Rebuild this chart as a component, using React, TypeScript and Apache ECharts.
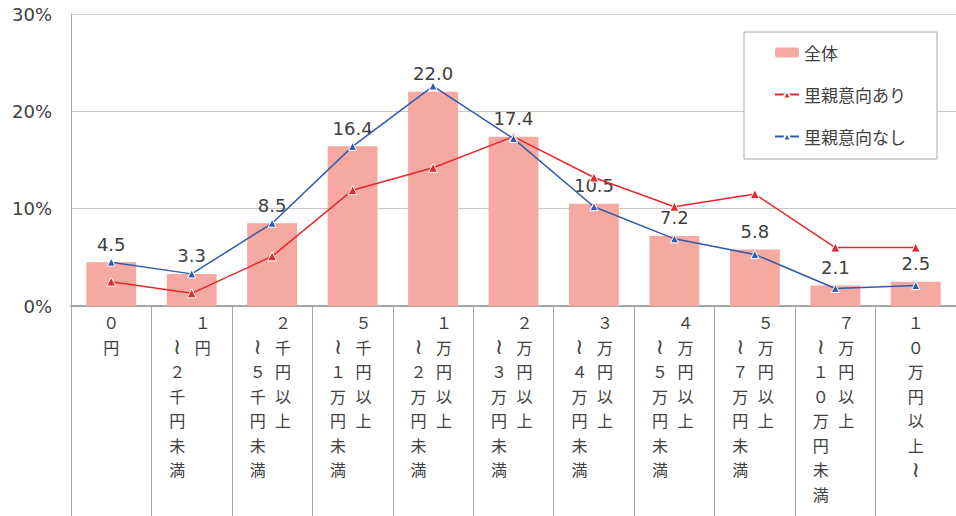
import React, { useEffect, useRef } from "react";
import * as echarts from "echarts";

const categories = [
  "０円",
  "１円～２千円未満",
  "２千円以上～５千円未満",
  "５千円以上～１万円未満",
  "１万円以上～２万円未満",
  "２万円以上～３万円未満",
  "３万円以上～４万円未満",
  "４万円以上～５万円未満",
  "５万円以上～７万円未満",
  "７万円以上～１０万円未満",
  "１０万円以上～",
];
const seriesNames = ["全体", "里親意向あり", "里親意向なし"];
const totalValues = [4.5, 3.3, 8.5, 16.4, 22.0, 17.4, 10.5, 7.2, 5.8, 2.1, 2.5];
const willingValues = [2.5, 1.3, 5.1, 11.9, 14.2, 17.4, 13.2, 10.2, 11.5, 6.0, 6.0];
const unwillingValues = [4.5, 3.3, 8.5, 16.4, 22.6, 17.2, 10.2, 6.9, 5.3, 1.8, 2.1];
const yTicks = { min: 0, max: 30, interval: 10 };

const FONT = '"Noto Sans CJK JP", "Noto Sans", sans-serif';
const NUMFONT = '"DejaVu Sans", "Noto Sans", sans-serif';
const TEXT = "#404040";

function tokenFor(c: string, style: string): string {
  if (c === "≀") return `{${style}w|${c}}`;
  return `{${style}|${c}}`;
}

function verticalLabel(s: string): string {
  const chars = Array.from(s).map((c) => (c === "～" ? "≀" : c));
  const idx = chars.indexOf("≀");
  if (idx <= 0 || idx === chars.length - 1) {
    return chars.map((c) => tokenFor(c, "s")).join("\n");
  }
  const right = chars.slice(0, idx);
  const left = chars.slice(idx);
  const rows = Math.max(right.length, left.length + 1);
  const lines: string[] = [];
  for (let r = 0; r < rows; r++) {
    const l = r >= 1 && left[r - 1] ? left[r - 1] : "　";
    const rr = right[r] || "　";
    lines.push(tokenFor(l, "l") + tokenFor(rr, "r"));
  }
  return lines.join("\n");
}

export default function App() {
  const ref = useRef<HTMLDivElement>(null);
  useEffect(() => {
    if (!ref.current) return;
    const chart = echarts.init(ref.current, undefined, { renderer: "svg" });
    const tok = { fontSize: 16, lineHeight: 24.5, align: "center", color: TEXT, fontFamily: FONT };
    const wav = { ...tok, fontSize: 22, fontFamily: NUMFONT };
    chart.setOption({
      animation: false,
      backgroundColor: "#ffffff",
      textStyle: { fontFamily: FONT },
      grid: { left: 71, top: 14, width: 891, height: 292, containLabel: false },
      legend: {
        orient: "vertical",
        left: 744,
        top: 32,
        padding: [12, 31, 14, 30],
        itemGap: 25,
        itemWidth: 24,
        itemHeight: 10,
        borderColor: "#a6a6a6",
        borderWidth: 1,
        backgroundColor: "#ffffff",
        textStyle: { fontSize: 17, color: TEXT, fontFamily: FONT },
        data: seriesNames,
      },
      xAxis: {
        type: "category",
        data: categories,
        axisLine: { lineStyle: { color: "#a6a6a6", width: 2 } },
        axisTick: { show: true, interval: 0, length: 210, lineStyle: { color: "#a6a6a6", width: 1 } },
        axisLabel: {
          interval: 0,
          margin: 4,
          color: TEXT,
          formatter: (v: string) => verticalLabel(v),
          rich: {
            s: { ...tok, width: 24 },
            l: { ...tok, width: 22 },
            r: { ...tok, width: 29 },
            sw: { ...wav, width: 24 },
            lw: { ...wav, width: 22 },
            rw: { ...wav, width: 29 },
          },
        },
      },
      yAxis: {
        type: "value",
        min: yTicks.min,
        max: yTicks.max,
        interval: yTicks.interval,
        axisLine: { show: true, lineStyle: { color: "#a6a6a6", width: 1 } },
        axisTick: { show: false },
        splitLine: { lineStyle: { color: "#c8c8c8", width: 1 } },
        axisLabel: {
          formatter: "{value}%",
          fontSize: 18,
          color: TEXT,
          margin: 19,
          fontFamily: NUMFONT,
        },
      },
      series: [
        {
          name: seriesNames[0],
          type: "bar",
          data: totalValues,
          barCategoryGap: "38%",
          itemStyle: { color: "#f5a9a1" },
          label: {
            show: true,
            position: "top",
            distance: 9,
            fontSize: 18,
            color: TEXT,
            fontFamily: NUMFONT,
            formatter: (p: any) => Number(p.value).toFixed(1),
          },
          z: 1,
        },
        {
          name: seriesNames[1],
          type: "line",
          data: willingValues,
          symbol: "triangle",
          symbolSize: 9,
          lineStyle: { color: "#e8262d", width: 1.5 },
          itemStyle: { color: "#e8262d", borderColor: "#ffffff", borderWidth: 1 },
          z: 3,
        },
        {
          name: seriesNames[2],
          type: "line",
          data: unwillingValues,
          symbol: "triangle",
          symbolSize: 8,
          lineStyle: { color: "#2e5cad", width: 1.5 },
          itemStyle: { color: "#2e5cad", borderColor: "#ffffff", borderWidth: 1 },
          z: 4,
        },
      ],
    });
    return () => chart.dispose();
  }, []);
  return (
    <div
      ref={ref}
      style={{ position: "absolute", left: 0, top: 0, width: 956, height: 516 }}
    />
  );
}
